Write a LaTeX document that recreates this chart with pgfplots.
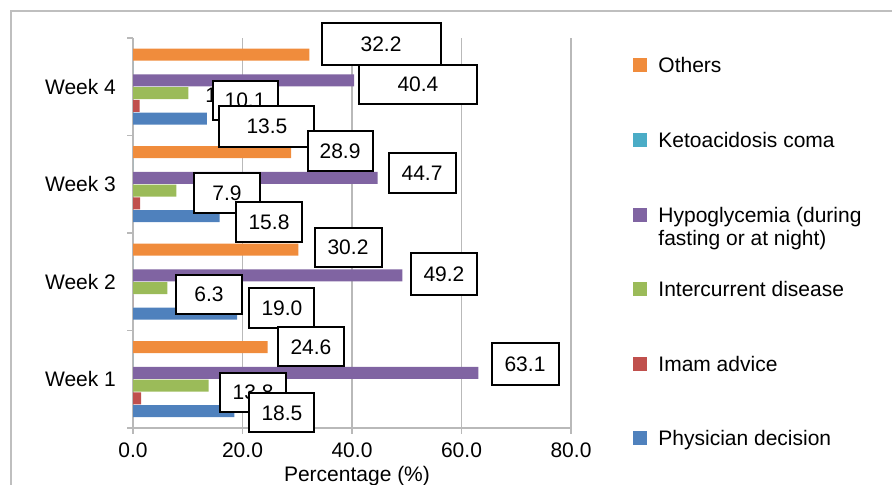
\documentclass[border=0pt]{standalone}
\usepackage{fontspec}
\setmainfont{Liberation Sans}
\usepackage{pgfplots}
\pgfplotsset{compat=1.18}

\definecolor{cPhys}{RGB}{79,129,189}
\definecolor{cImam}{RGB}{192,80,77}
\definecolor{cInter}{RGB}{155,187,89}
\definecolor{cHypo}{RGB}{128,100,162}
\definecolor{cKeto}{RGB}{75,172,198}
\definecolor{cOther}{RGB}{240,140,60}
\definecolor{gridgray}{RGB}{185,185,185}
\newcommand\fs{\fontsize{10.5}{11.7}\selectfont}

\begin{document}
\begin{tikzpicture}[x=1pt,y=1pt,
  lbl/.style={draw=black, line width=1pt, fill=white, minimum width=#1,
    minimum height=19.5pt, inner sep=0pt, font=\fs}]
\path[use as bounding box] (0,0) rectangle (446,242.5);
\draw[gray!50, line width=0.75pt] (5.5,-10) rectangle (460,237);
\begin{axis}[
  at={(66.5pt,28.5pt)}, anchor=south west,
  scale only axis, width=219pt, height=195pt,
  xbar, bar width=6pt,
  xmin=0, xmax=80, ymin=0.5, ymax=4.5,
  clip=false,
  axis x line=bottom, axis y line=left,
  axis line style={-, gridgray, line width=0.6pt},
  xtick={0,20,40,60,80}, xticklabels={0.0,20.0,40.0,60.0,80.0},
  xmajorgrids, major grid style={gridgray, line width=0.6pt},
  ytick={0.5,1.5,2.5,3.5,4.5}, yticklabels={},
  extra y ticks={1,2,3,4},
  extra y tick labels={Week 1,Week 2,Week 3,Week 4},
  extra y tick style={major tick length=0pt, yticklabel style={anchor=east, xshift=-5pt}},
  tick style={gridgray, line width=0.6pt}, major tick length=3pt, tick align=outside,
  xticklabel style={font=\fs, anchor=base, yshift=-12pt},
  yticklabel style={font=\fs},
  xlabel={Percentage (\%)},
  xlabel style={font=\fs, at={(axis description cs:0.5114,0)}, anchor=base, yshift=-27pt},
  reverse legend,
  legend cell align=left,
  legend image code/.code={\fill[#1] (0pt,-3.5pt) rectangle (7pt,3.5pt);},
  legend style={at={(axis description cs:1.1416,0.95)}, anchor=north west,
    draw=none, fill=none, inner sep=0pt, row sep=29.8pt, column sep=5.5pt,
    nodes={inner sep=0pt, text height=7.5pt, text depth=0pt, font=\fs}},
]
\addplot[fill=cPhys, draw=none, bar shift=-16pt] coordinates {(18.5,1) (19.0,2) (15.8,3) (13.5,4)};
\addlegendentry{Physician decision}
\addplot[fill=cImam, draw=none, bar shift=-9.6pt] coordinates {(1.5,1) (0,2) (1.3,3) (1.2,4)};
\addlegendentry{Imam advice}
\addplot[fill=cInter, draw=none, bar shift=-3.2pt] coordinates {(13.8,1) (6.3,2) (7.9,3) (10.1,4)};
\addlegendentry{Intercurrent disease}
\addplot[fill=cHypo, draw=none, bar shift=3.2pt] coordinates {(63.1,1) (49.2,2) (44.7,3) (40.4,4)};
\addlegendentry{\parbox[t]{4cm}{Hypoglycemia (during\\fasting or at night)}}
\addplot[fill=cKeto, draw=none, bar shift=9.6pt] coordinates {(0,1) (0,2) (0,3) (0,4)};
\addlegendentry{Ketoacidosis coma}
\addplot[fill=cOther, draw=none, bar shift=16pt] coordinates {(24.6,1) (30.2,2) (28.9,3) (32.2,4)};
\addlegendentry{Others}

\node[lbl=59.5pt, minimum height=21pt] at (axis cs:45.30,4.438) {32.2};
\node[lbl=59pt] at (axis cs:52.05,4.028) {40.4};
\node[font=\fs, anchor=west, inner sep=0pt] at (axis cs:13.15,3.915) {1.2};
\node[lbl=32.5pt] at (axis cs:20.46,3.864) {10.1};
\node[lbl=47.5pt, minimum height=20.5pt] at (axis cs:24.47,3.597) {13.5};
\node[lbl=32.5pt] at (axis cs:37.81,3.341) {28.9};
\node[lbl=33.5pt, minimum height=20pt] at (axis cs:52.79,3.115) {44.7};
\node[lbl=33pt, minimum height=20pt] at (axis cs:17.17,2.910) {7.9};
\node[lbl=33pt, minimum height=20pt] at (axis cs:24.84,2.613) {15.8};
\node[lbl=33.5pt] at (axis cs:39.27,2.356) {30.2};
\node[lbl=33pt, minimum height=21pt] at (axis cs:56.80,2.079) {49.2};
\node[lbl=33pt] at (axis cs:13.88,1.874) {6.3};
\node[lbl=32.5pt, minimum height=20pt] at (axis cs:27.21,1.731) {19.0};
\node[lbl=33pt] at (axis cs:32.51,1.331) {24.6};
\node[lbl=33.5pt, minimum height=21pt] at (axis cs:71.60,1.156) {63.1};
\node[lbl=33pt] at (axis cs:21.92,0.869) {13.8};
\node[lbl=32.5pt] at (axis cs:27.21,0.654) {18.5};
\end{axis}
\end{tikzpicture}
\end{document}
